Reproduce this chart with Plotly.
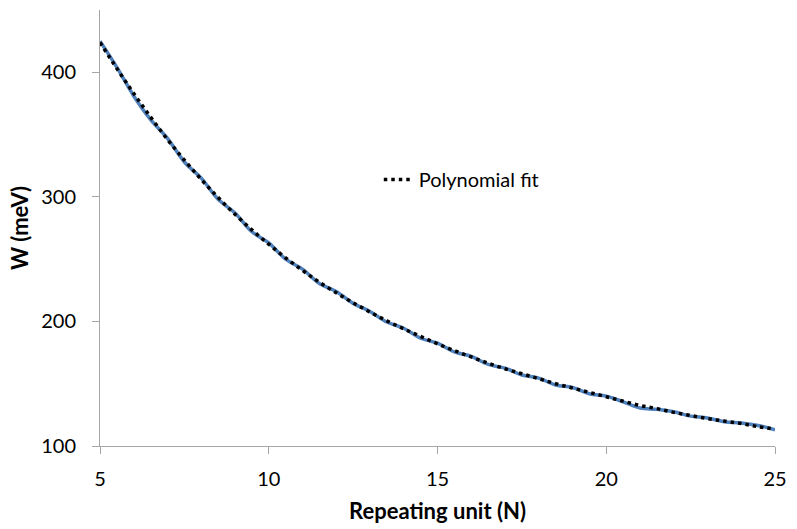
import plotly.graph_objects as go

# Repeating unit N
n_values = [5, 5.5, 6, 6.5, 7, 7.5, 8, 8.5, 9, 9.5, 10, 10.5, 11, 11.5, 12, 12.5,
            13, 13.5, 14, 14.5, 15, 15.5, 16, 16.5, 17, 17.5, 18, 18.5, 19, 19.5,
            20, 20.5, 21, 21.5, 22, 22.5, 23, 23.5, 24, 24.5, 25]

# Computed W (meV)
w_data = [425, 404, 381, 362, 347, 328, 315, 298, 287, 272, 263, 250, 242, 230.5,
          224, 214.5, 208, 199.5, 194.5, 186.5, 182.5, 175.5, 172, 165.5, 162.5,
          157, 154.5, 149, 147, 142, 140, 135.5, 130.5, 129.5, 127.5, 124, 122.5,
          119.5, 118.5, 116.5, 113]

# Polynomial fit (W, meV)
w_fit = [424, 403, 383, 364, 346, 329.5, 314, 299.5, 286, 273.5, 262, 251, 241,
         231.5, 223, 215, 207.5, 200.5, 194, 188, 182, 176.5, 171.5, 166.5, 162,
         158, 154, 150, 146.5, 143, 139.5, 136, 132.5, 130, 127, 124.5, 122, 120,
         118, 115.5, 113.5]

x_ticks = [5, 10, 15, 20, 25]
y_ticks = [100, 200, 300, 400]

FONT = "Lato"

fig = go.Figure()
fig.add_trace(go.Scatter(
    x=n_values, y=w_data, mode="lines", name="W",
    line=dict(color="#4F81BD", width=3.5, shape="spline"),
    showlegend=False, hoverinfo="skip"))
fig.add_trace(go.Scatter(
    x=n_values, y=w_fit, mode="lines", name="Polynomial fit",
    line=dict(color="black", width=3.5, dash="3.5px,4px", shape="spline"),
    showlegend=True))

axis_common = dict(
    showgrid=False, zeroline=False, showline=True, linecolor="#A6A6A6",
    linewidth=1, ticks="outside", ticklen=7, tickcolor="#A6A6A6",
    tickfont=dict(family=FONT, size=20, color="black"),
)

fig.update_layout(
    width=797, height=529,
    margin=dict(l=100, r=14, t=10, b=82),
    paper_bgcolor="white", plot_bgcolor="white",
    font=dict(family=FONT, color="black"),
    xaxis=dict(range=[5, 25], tickvals=x_ticks, ticklabelstandoff=8,
               title=dict(text="<b>Repeating unit (N)</b>",
                          font=dict(family=FONT, size=22), standoff=14),
               **axis_common),
    yaxis=dict(range=[100, 450], tickvals=y_ticks, ticklabelstandoff=12,
               title=dict(text="<b>W (meV)</b>",
                          font=dict(family=FONT, size=22), standoff=6),
               **axis_common),
    legend=dict(x=0.413, y=0.611, xanchor="left", yanchor="middle",
                bgcolor="rgba(0,0,0,0)", font=dict(family=FONT, size=20),
                itemwidth=30),
)

fig.write_html("out.html")
